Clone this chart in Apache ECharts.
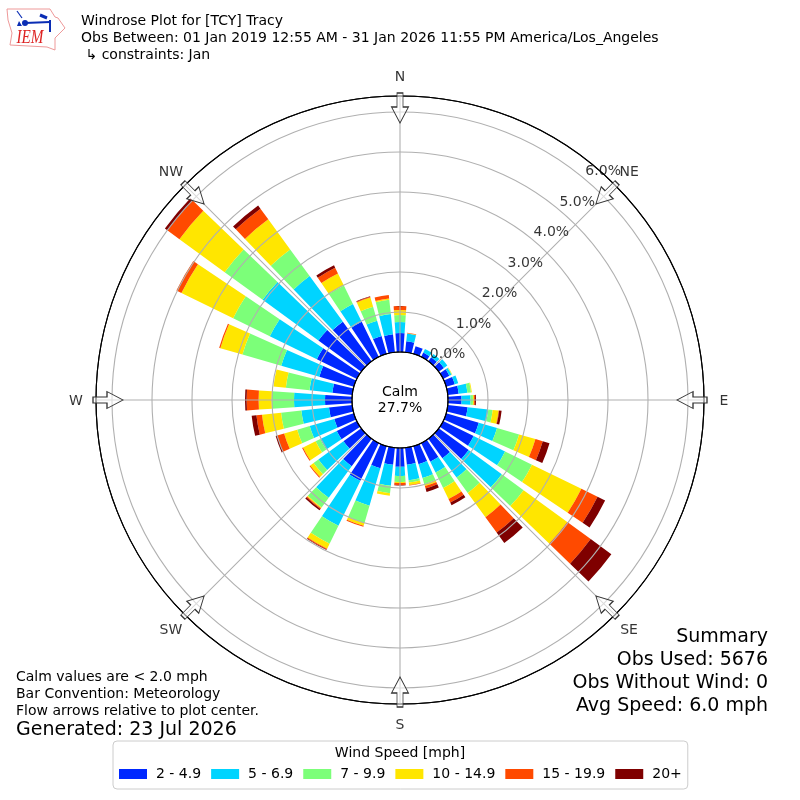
<!DOCTYPE html>
<html><head><meta charset="utf-8">
<style>html,body{margin:0;padding:0;background:#fff}#c{width:800px;height:800px}</style>
<script src="https://cdn.jsdelivr.net/npm/echarts@6/dist/echarts.min.js"></script>
</head><body><div id="c"></div>
<script>
const directions = [10,20,30,40,50,60,70,80,90,100,110,120,130,140,150,160,170,180,190,200,210,220,230,240,250,260,270,280,290,300,310,320,330,340,350,360];
const speedBins = ['2 - 4.9','5 - 6.9','7 - 9.9','10 - 14.9','15 - 19.9','20+'];
const binColors = ['#0028ff','#00d4ff','#7cff79','#ffe600','#ff4a00','#7f0000'];
const bin1 = [.275,.2,.12,.125,.16,.175,.225,.275,.34,.5,.85,.85,.925,.6,.52,.47,.425,.47,.43,.575,1.05,.85,.55,.56,.51,.585,.675,.5,.9,1.115,1.325,1.225,.975,.465,.45,.475];
const bin2 = [.195,0,.1,.095,.105,.06,.09,.22,.225,.52,.475,.875,1.025,.6,.3,.36,.39,.23,.525,.975,1.25,.975,.775,.46,.64,.695,.775,.575,.99,1.31,1.725,1.41,.5,.4,.51,.275];
const bin3 = [.005,0,0,0,0,.01,0,.09,.06,.11,.575,.75,.675,.475,.43,.16,.06,.15,.19,.45,.5,.3,.15,.13,.325,.51,.56,.595,1.01,1.02,1.175,.825,.515,.36,.36,.175];
const bin4 = [.005,0,0,0,0,.01,0,.02,.025,.15,.425,1.375,1.35,.75,.305,.05,.06,.025,.06,.075,.14,.025,.1,.35,.34,.48,.325,.31,.575,1.44,1.4,.93,.335,.24,.03,.125];
const bin5 = [.0125,0,0,0,0,0,0,0,.025,.0125,.19,.45,.725,.475,.1,.065,.0125,.05,0,.025,.025,.025,.025,.025,.18,.14,.3,0,.03,.14,.365,.33,.16,.02,.09,.1];
const bin6 = [0,0,0,0,0,0,0,0,.025,.0625,.175,.21,.64,.325,.075,.09,0,.01,0,0,.0125,.04,0,0,.04,.12,.04,0,0,0,.085,.10,.065,.0125,0,0];
const binValues = [bin1,bin2,bin3,bin4,bin5,bin6];
const ringTicks = [0,1,2,3,4,5,6];
const compassNames = ['N','NE','E','SE','S','SW','W','NW'];
const compassAngles = [0,45,90,135,180,225,270,315];
const titleLines = ['Windrose Plot for [TCY] Tracy','Obs Between: 01 Jan 2019 12:55 AM - 31 Jan 2026 11:55 PM America/Los_Angeles',' \u21b3 constraints: Jan'];
const summaryLines = ['Summary','Obs Used: 5676','Obs Without Wind: 0','Avg Speed: 6.0 mph'];
const noteLines = ['Calm values are < 2.0 mph','Bar Convention: Meteorology','Flow arrows relative to plot center.'];
const generatedText = 'Generated: 23 Jul 2026';
const calmLines = ['Calm','27.7%'];
const legendTitle = 'Wind Speed [mph]';

const FONT = '"DejaVu Sans"';
const chart = echarts.init(document.getElementById('c'), null, {renderer:'canvas', width:800, height:800});
const arrowPath = 'path://M5.5,0 L11.5,0 L11.5,14 L17,14 L8.5,30 L0,14 L5.5,14 Z';
const rMax = 6.4;
const txt = (x,y,text,size,align,extra) => ({type:'text', z:100, style:Object.assign({x,y,text,fill:'#000',font:size+'px '+FONT,textAlign:align||'left',textVerticalAlign:'middle'},extra||{})});

const series = speedBins.map((name,i)=>({
  type:'bar', name, coordinateSystem:'polar', polarIndex:0, stack:'wind', barWidth:'78%',
  itemStyle:{color:binColors[i]}, data:binValues[i], z:2, silent:true
}));
series.push({
  type:'scatter', coordinateSystem:'polar', polarIndex:1, clip:false, z:20, silent:true,
  symbol:arrowPath, symbolSize:[17,30], symbolRotate:v=>-v[1],
  itemStyle:{color:'rgba(255,255,255,0.55)',borderColor:'#333',borderWidth:1,opacity:1},
  data:compassAngles.map(a=>[6.1,a])
});
series.push({
  type:'scatter', coordinateSystem:'polar', polarIndex:1, clip:false, z:21, silent:true,
  symbolSize:0,
  label:{show:true,position:'inside',offset:[0,1],formatter:p=>compassNames[p.dataIndex],color:'#000',fontFamily:FONT,fontSize:14},
  data:compassAngles.map(a=>[6.9,a])
});
series.push({
  type:'scatter', coordinateSystem:'polar', polarIndex:1, clip:false, z:22, silent:true,
  symbolSize:0,
  label:{show:true,position:'inside',offset:[16.5,-9],formatter:p=>ringTicks[p.dataIndex].toFixed(1)+'%',color:'#000',fontFamily:FONT,fontSize:14},
  data:ringTicks.map(t=>[t,40.4])
});

chart.setOption({
  animation:false, backgroundColor:'#fff',
  textStyle:{fontFamily:FONT},
  title:{left:76,top:8,text:titleLines.join('\n'),textStyle:{fontFamily:FONT,fontSize:14,fontWeight:'normal',color:'#000',lineHeight:17}},
  polar:[{center:[400,400],radius:[48,304]},{center:[400,400],radius:[48,304]}],
  angleAxis:[
    {polarIndex:0,type:'category',data:directions,startAngle:85,show:false,boundaryGap:true},
    {polarIndex:1,type:'value',min:0,max:360,interval:45,startAngle:90,z:10,
     axisLine:{show:true,lineStyle:{color:'#000',width:1.1}},axisTick:{show:false},axisLabel:{show:false},
     splitLine:{show:true,lineStyle:{color:'#b0b0b0',width:1.1}}}
  ],
  radiusAxis:[
    {polarIndex:0,type:'value',min:0,max:rMax,show:false},
    {polarIndex:1,type:'value',min:0,max:rMax,interval:1,z:10,
     axisLine:{show:false},axisTick:{show:false},axisLabel:{show:false},
     splitLine:{show:true,lineStyle:{color:['#000','#b0b0b0','#b0b0b0','#b0b0b0','#b0b0b0','#b0b0b0','#b0b0b0','#000'],width:1.1}}}
  ],
  legend:{
    left:113, top:741, orient:'horizontal', itemWidth:28, itemHeight:10, itemGap:10, icon:'rect',
    padding:[26,6,8,6], backgroundColor:'#fff', borderColor:'#ccc', borderWidth:1, borderRadius:4,
    textStyle:{fontFamily:FONT,fontSize:14,color:'#000',padding:[0,0,0,4]},
    data:speedBins, selectedMode:false
  },
  series,
  graphic:[
    txt(400,753,legendTitle,14,'center'),
    txt(400,392,calmLines[0],14,'center'),
    txt(400,408,calmLines[1],14,'center'),
    ...summaryLines.map((s,i)=>txt(768,637.5+i*23,s,19,'right')),
    ...noteLines.map((s,i)=>txt(16,677+i*17,s,14,'left')),
    txt(16,730,generatedText,19,'left'),
    {type:'group',z:100,children:[
      {type:'polygon',shape:{points:[[7,9],[50,9],[55,17],[58,18],[65,28],[55,38],[55,50],[47,47],[10,45],[12,33],[8,20]]},style:{fill:'none',stroke:'#e99',lineWidth:1}},
      {type:'line',shape:{x1:25,y1:23,x2:50,y2:22},style:{stroke:'#0a2db4',lineWidth:2}},
      {type:'line',shape:{x1:40,y1:15,x2:47,y2:18},style:{stroke:'#0a2db4',lineWidth:3}},
      {type:'line',shape:{x1:17,y1:11,x2:22,y2:18},style:{stroke:'#0a2db4',lineWidth:1.2}},
      {type:'line',shape:{x1:50,y1:20,x2:50,y2:32},style:{stroke:'#0a2db4',lineWidth:2}},
      {type:'circle',shape:{cx:25,cy:23,r:3},style:{fill:'#0a2db4'}},
      {type:'polygon',shape:{points:[[19,21],[22,26],[17,26]]},style:{fill:'#0a2db4'}},
      {type:'text',x:30,y:38,scaleX:0.8,style:{x:0,y:0,text:'IEM',fill:'#d22',font:'italic 19px "Liberation Serif"',textAlign:'center',textVerticalAlign:'middle'}}
    ]}
  ]
});
</script></body></html>
